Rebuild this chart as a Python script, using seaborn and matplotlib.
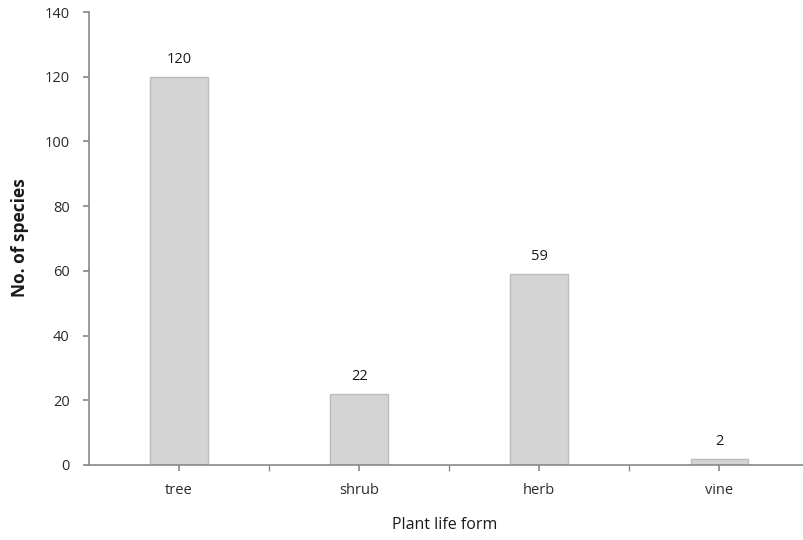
import matplotlib
matplotlib.use("Agg")
import matplotlib.pyplot as plt
import seaborn as sns
import pandas as pd
from matplotlib.ticker import FixedLocator

categories = ["tree", "shrub", "herb", "vine"]
counts = [120, 22, 59, 2]
yticks = [0, 20, 40, 60, 80, 100, 120, 140]

df = pd.DataFrame({"form": categories, "n": counts})

sns.set_theme(style="white")
plt.rcParams["font.family"] = ["Open Sans", "DejaVu Sans"]

fig = plt.figure(figsize=(8.04, 5.4), dpi=100)
ax = fig.add_axes([89/804, 1-465/540, 1-89/804, (465-12)/540])

sns.barplot(data=df, x="form", y="n", ax=ax, color="#d4d4d4",
            edgecolor="#bcbcbc", linewidth=1, width=0.32, saturation=1)

for i, v in enumerate(counts):
    ax.text(i, v + 3, str(v), ha="center", va="bottom", fontsize=10.5,
            fontweight="medium", color="#1a1a1a")

ax.set_xlim(-0.5, 3.47)
ax.set_ylim(0, 140)
ax.set_yticks(yticks)
ax.set_yticklabels([str(t) for t in yticks], fontsize=10.5, color="#2a2a2a")
ax.set_xticks(range(len(categories)))
ax.set_xticklabels(categories, fontsize=10.5, color="#2a2a2a")
ax.xaxis.set_minor_locator(FixedLocator([0.5, 1.5, 2.5]))

for s in ["top", "right"]:
    ax.spines[s].set_visible(False)
for s in ["left", "bottom"]:
    ax.spines[s].set_color("#8a8a8a")
    ax.spines[s].set_linewidth(1.2)

ax.tick_params(axis="y", which="major", direction="out", length=4, color="#8a8a8a", left=True, pad=10)
ax.tick_params(axis="x", which="major", direction="out", length=4, color="#8a8a8a", bottom=True, pad=9)
ax.tick_params(axis="x", which="minor", direction="out", length=4, color="#8a8a8a", bottom=True)

ax.set_xlabel("")
ax.set_ylabel("")
fig.text(445/804, 1-525/540, "Plant life form", ha="center", va="center",
         fontsize=11.5, fontweight="medium", color="#1a1a1a")
fig.text(20/804, 1-238/540, "No. of species", ha="center", va="center", rotation=90,
         fontsize=12.5, fontweight="bold", color="#1a1a1a")

fig.savefig("out.png", dpi=100)
